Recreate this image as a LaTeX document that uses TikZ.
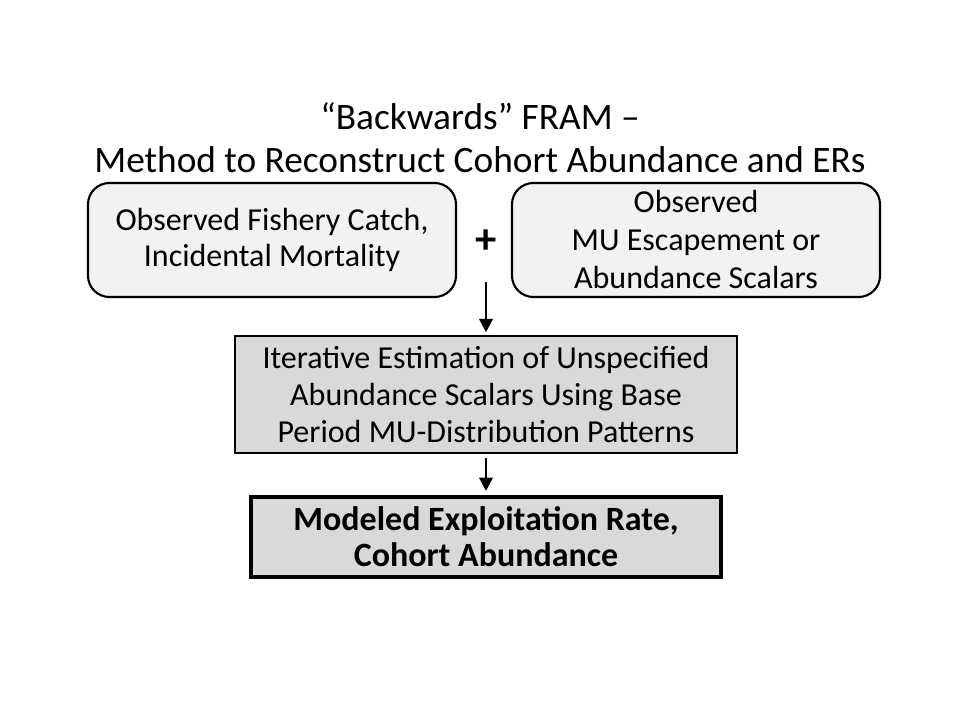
\documentclass[tikz,border=0pt]{standalone}
\usepackage{fontspec}
\setmainfont{Carlito}
\usetikzlibrary{arrows.meta}
\begin{document}
\begin{tikzpicture}[x=0.75pt,y=-0.75pt,
  roundbox/.style={draw=black,line width=1.6pt,rounded corners=16pt,fill=black!5,align=center,font=\fontsize{24}{27}\selectfont,inner sep=0pt},
  midbox/.style={draw=black,line width=1.6pt,fill=black!15,align=center,font=\fontsize{24}{28}\selectfont,inner sep=0pt},
  endbox/.style={draw=black,line width=3pt,fill=black!15,align=center,font=\bfseries\fontsize{25.5}{27}\selectfont,inner sep=0pt},
  arr/.style={-{Triangle[length=10pt,width=10pt]},line width=1.8pt}]
\useasboundingbox (0,0) rectangle (960,720);
\node[font=\fontsize{28}{32}\selectfont,align=center] (title) at (480,138) {“Backwards” FRAM –\\Method to Reconstruct Cohort Abundance and ERs};
\node[roundbox,minimum width=368*0.75pt,minimum height=114*0.75pt] (left) at (272,240) {Observed Fishery Catch,\\Incidental Mortality};
\node[roundbox,font=\fontsize{24}{28.5}\selectfont,minimum width=368*0.75pt,minimum height=114*0.75pt] (right) at (696,240) {Observed\\MU Escapement or\\ Abundance Scalars};
\node[font=\bfseries\fontsize{32}{34}\selectfont] (plus) at (486,242) {+};
\coordinate (start) at (486,282);
\node[midbox,minimum width=502*0.75pt,minimum height=117*0.75pt] (mid) at (486,394.5) {Iterative Estimation of Unspecified\\Abundance Scalars Using Base\\Period MU-Distribution Patterns};
\node[endbox,minimum width=470*0.75pt,minimum height=80*0.75pt] (end) at (486,537) {Modeled Exploitation Rate,\\Cohort Abundance};
\draw[arr] (start) -- ([yshift=2pt]mid.north);
\draw[arr] ([yshift=-3pt]mid.south) -- ([yshift=3pt]end.north);
\end{tikzpicture}
\end{document}
